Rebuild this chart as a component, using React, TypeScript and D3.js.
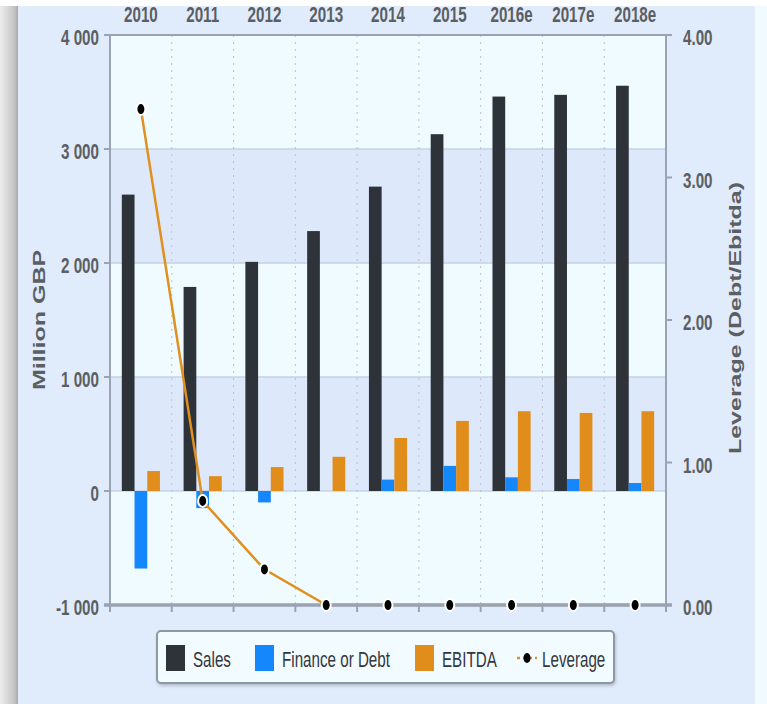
import React from 'react';
import * as d3 from 'd3';

// Yearly figures, million GBP (e = estimate)
const categories = ['2010', '2011', '2012', '2013', '2014', '2015', '2016e', '2017e', '2018e'];
const sales = [2600, 1790, 2010, 2280, 2670, 3130, 3460, 3475, 3555];
const financeOrDebt = [-680, -150, -100, 0, 100, 220, 120, 105, 70];
const ebitda = [175, 130, 210, 300, 465, 615, 700, 685, 700];
// Debt / EBITDA ratio
const leverage = [3.48, 0.73, 0.25, 0, 0, 0, 0, 0, 0];

const leftTicks = [-1000, 0, 1000, 2000, 3000, 4000];
const rightTicks = [0, 1, 2, 3, 4];

const seriesNames = ['Sales', 'Finance or Debt', 'EBITDA'];
const seriesColors = ['#2e3339', '#1387fb', '#e08d1c'];
const lineColor = '#e0901f';

const W = 767;
const H = 704;
const plot = { left: 110, right: 666, top: 35, bottom: 605 };

const fmtLocale = d3.formatLocale({
  decimal: '.',
  thousands: ' ',
  grouping: [3],
  currency: ['', ''],
  minus: '-',
});
const fmtLeft = fmtLocale.format(',');
const fmtRight = d3.format('.2f');

const textGray = '#5b5e63';
const axisGray = '#99a3b3';
const SX = 0.69; // horizontal condensing of the label glyphs

export default function App() {
  const x0 = d3.scaleBand<string>().domain(categories).range([plot.left, plot.right]).padding(0);
  const x1 = d3
    .scaleBand<string>()
    .domain(seriesNames)
    .range([0, x0.bandwidth()])
    .paddingInner(0)
    .paddingOuter(0.93);
  const yL = d3.scaleLinear().domain([-1000, 4000]).range([plot.bottom, plot.top]);
  const yR = d3.scaleLinear().domain([0, 4]).range([plot.bottom, plot.top]);

  const seriesValues = [sales, financeOrDebt, ebitda];
  const cx = (c: string) => (x0(c) as number) + x0.bandwidth() / 2;

  const linePath = d3
    .line<number>()
    .x((_, i) => cx(categories[i]))
    .y((d) => yR(d))(leverage) as string;

  // alternating horizontal bands between left-axis ticks
  const bands = d3.pairs(leftTicks).map(([a, b], i) => ({ a, b, shaded: i % 2 === 1 }));

  const boundaries = categories.map((c) => x0(c) as number).concat([plot.right]);

  const legendItems = [
    { label: 'Sales', sw: 166, tx: 193, kind: 'rect', color: seriesColors[0] },
    { label: 'Finance or Debt', sw: 255, tx: 282, kind: 'rect', color: seriesColors[1] },
    { label: 'EBITDA', sw: 415, tx: 442, kind: 'rect', color: seriesColors[2] },
    { label: 'Leverage', sw: 517, tx: 542, kind: 'line', color: lineColor },
  ];

  return (
    <svg
      width={W}
      height={H}
      style={{ position: 'fixed', left: 0, top: 0, fontFamily: '"Liberation Sans", Arial, sans-serif' }}
    >
      <defs>
        <linearGradient id="edge" x1="0" x2="1" y1="0" y2="0">
          <stop offset="0" stopColor="#ededed" />
          <stop offset="0.8" stopColor="#c4c4c4" />
          <stop offset="1" stopColor="#a9a9a9" />
        </linearGradient>
        <filter id="legendShadow" x="-5%" y="-20%" width="110%" height="150%">
          <feDropShadow dx="1" dy="2" stdDeviation="1.5" floodColor="#7d8796" floodOpacity="0.45" />
        </filter>
      </defs>

      {/* page background */}
      <rect x={0} y={0} width={W} height={H} fill="#e0ebfb" />
      <rect x={755} y={0} width={W - 755} height={H} fill="#f1fbff" />
      <rect x={0} y={0} width={18} height={H} fill="url(#edge)" />
      <rect x={0} y={0} width={W} height={6} fill="#ffffff" />

      {/* plot area */}
      <rect
        x={plot.left}
        y={plot.top}
        width={plot.right - plot.left}
        height={plot.bottom - plot.top}
        fill="#effbff"
      />
      {bands
        .filter((b) => b.shaded)
        .map((b) => (
          <rect
            key={b.a}
            x={plot.left}
            y={yL(b.b)}
            width={plot.right - plot.left}
            height={yL(b.a) - yL(b.b)}
            fill="#dde8fa"
          />
        ))}
      {leftTicks
        .filter((t) => t > -1000 && t < 4000)
        .map((t) => (
          <line
            key={t}
            x1={plot.left}
            x2={plot.right}
            y1={yL(t)}
            y2={yL(t)}
            stroke="#c6d2e6"
            strokeWidth={1.5}
          />
        ))}
      {boundaries.slice(1, -1).map((bx, i) => (
        <line
          key={i}
          x1={bx}
          x2={bx}
          y1={plot.top}
          y2={plot.bottom}
          stroke="#b3c0d6"
          strokeWidth={1}
          strokeDasharray="2 5"
        />
      ))}

      {/* bars */}
      {seriesValues.map((vals, s) =>
        categories.map((c, i) => {
          const v = vals[i];
          if (v === 0) return null;
          const bx = (x0(c) as number) + (x1(seriesNames[s]) as number);
          const y = Math.min(yL(v), yL(0));
          const h = Math.abs(yL(v) - yL(0));
          return (
            <rect
              key={`${s}-${i}`}
              x={bx}
              y={y}
              width={x1.bandwidth()}
              height={h}
              fill={seriesColors[s]}
            />
          );
        })
      )}

      {/* leverage line (under the axes, so the zero run sits beneath the baseline) */}
      <path d={linePath} fill="none" stroke={lineColor} strokeWidth={2.5} />

      {/* axes */}
      <g stroke={axisGray} strokeWidth={2} fill="none">
        <line x1={plot.left} x2={plot.left} y1={plot.top} y2={plot.bottom} />
        <line x1={plot.right} x2={plot.right} y1={plot.top} y2={plot.bottom} />
        <line x1={plot.left - 6} x2={plot.right + 6} y1={plot.top} y2={plot.top} />
        <line x1={plot.left - 6} x2={plot.right + 6} y1={plot.bottom} y2={plot.bottom} strokeWidth={3.5} />
        {leftTicks.map((t) => (
          <line key={t} x1={plot.left - 6} x2={plot.left} y1={yL(t)} y2={yL(t)} />
        ))}
        {rightTicks.map((t) => (
          <line key={t} x1={plot.right} x2={plot.right + 6} y1={yR(t)} y2={yR(t)} />
        ))}
        {boundaries.map((bx, i) => (
          <line key={i} x1={bx} x2={bx} y1={plot.bottom} y2={plot.bottom + 7} />
        ))}
      </g>

      {leverage.map((v, i) => (
        <ellipse
          key={i}
          cx={cx(categories[i])}
          cy={yR(v)}
          rx={4.5}
          ry={6}
          fill="#000"
          stroke="#fff"
          strokeWidth={2}
        />
      ))}

      {/* tick labels */}
      <g fill={textGray} fontWeight="bold" fontSize={22}>
        {leftTicks.map((t) => (
          <text key={t} textAnchor="end" transform={`translate(99,${yL(t) + 10}) scale(${SX},1)`}>
            {fmtLeft(t)}
          </text>
        ))}
        {rightTicks.map((t) => (
          <text key={t} textAnchor="start" transform={`translate(683,${yR(t) + 10}) scale(${SX},1)`}>
            {fmtRight(t)}
          </text>
        ))}
        {categories.map((c) => (
          <text key={c} textAnchor="middle" transform={`translate(${cx(c)},22) scale(${SX},1)`}>
            {c}
          </text>
        ))}
      </g>

      {/* axis titles */}
      <g fill={textGray} fontWeight="bold" fontSize={25}>
        <text textAnchor="middle" transform={`translate(45,320) rotate(-90) scale(1,${SX})`}>
          Million GBP
        </text>
        <text textAnchor="middle" transform={`translate(741,318) rotate(-90) scale(1,${SX})`}>
          Leverage (Debt/Ebitda)
        </text>
      </g>

      {/* legend */}
      <rect
        x={157}
        y={631}
        width={457}
        height={52}
        rx={4}
        fill="#f2fbff"
        stroke="#8e97a4"
        strokeWidth={2}
        filter="url(#legendShadow)"
      />
      {legendItems.map((it) => (
        <g key={it.label}>
          {it.kind === 'rect' ? (
            <rect x={it.sw} y={645} width={19} height={26} fill={it.color} />
          ) : (
            <g>
              <line
                x1={it.sw}
                x2={it.sw + 20}
                y1={658}
                y2={658}
                stroke={it.color}
                strokeWidth={2.5}
                strokeDasharray="3 3"
              />
              <ellipse cx={it.sw + 10} cy={658} rx={3.5} ry={5} fill="#000" />
            </g>
          )}
          <text
            fill="#34373c"
            fontSize={22}
            transform={`translate(${it.tx},667) scale(${SX},1)`}
          >
            {it.label}
          </text>
        </g>
      ))}
    </svg>
  );
}
